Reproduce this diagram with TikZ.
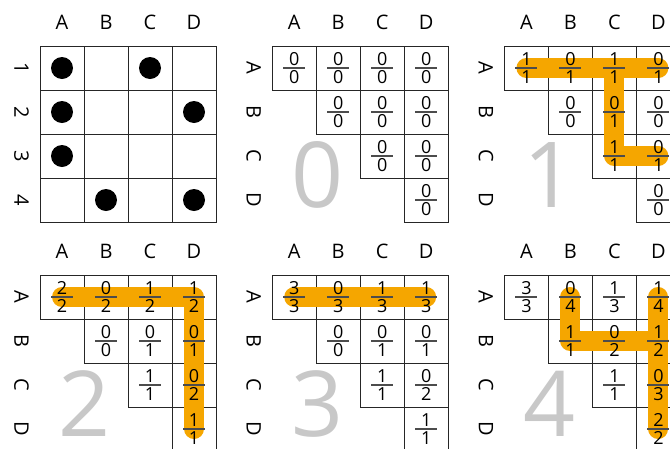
\documentclass[tikz,border=0pt]{standalone}
\usepackage{fontspec}
\setmainfont{Open Sans}
\usepackage{tikz}

\definecolor{bandorange}{RGB}{245,166,0}
\definecolor{numgray}{RGB}{200,200,200}

\pgfdeclarelayer{gridlayer}
\pgfdeclarelayer{bandlayer}
\pgfsetlayers{gridlayer,bandlayer,main}

\tikzset{
    cell/.style={minimum size=44pt, inner sep=0pt, outer sep=0pt},
    gridline/.style={draw=black!85, line width=1pt},
    band/.style={draw=bandorange, line width=20pt, line cap=round, line join=round},
    fbar/.style={draw=black!70, line width=1.2pt},
    digit/.style={inner sep=0pt, anchor=base, font=\fontsize{18}{18}\selectfont},
    headlabel/.style={inner sep=0pt, font=\fontsize{20}{20}\selectfont},
    sidelabel/.style={headlabel, rotate=-90},
    bignum/.style={inner sep=0pt, anchor=base, text depth=0pt, text=numgray, font=\fontsize{91}{91}\selectfont},
    dot/.style={circle, fill=black, minimum size=22pt, inner sep=0pt},
}

% one cell of a count table: name, row, column, numerator, denominator
\newcommand{\fraccell}[5]{%
    \node[cell] (#1) at ({(#3-1)*44+22},{(#2-1)*44+22}) {};
    \begin{pgfonlayer}{gridlayer}
        \draw[gridline] (#1.north west) rectangle (#1.south east);
    \end{pgfonlayer}
    \node[digit] at ([yshift=2.5pt]#1.center) {#4};
    \draw[fbar] ([xshift=-11pt]#1.center) -- ([xshift=11pt]#1.center);
    \node[digit] at ([yshift=-15pt]#1.center) {#5};
}

% column labels on top, row labels turned on the left
\newcommand{\tablelabels}[3]{%
    \foreach \l [count=\i] in {A,B,C,D}
        \node[headlabel] (#1-top\l) at ({(\i-1)*44+22},-24) {\l};
    \foreach \l [count=\i] in {#2}
        \node[sidelabel] (#1-side\i) at (-18.5,{(\i-1)*44+22}) {\l};
    \node[bignum] (#1-step) at (45,161) {#3};
}

\begin{document}
\begin{tikzpicture}[x=1pt,y=-1pt]
    \useasboundingbox (0,0) rectangle (670,448);

    % Dot matrix
    \begin{scope}[shift={(40,46)}]
        \foreach \r in {1,...,4}
            \foreach \c in {1,...,4} {
                \node[cell] (d-\r\c) at ({(\c-1)*44+22},{(\r-1)*44+22}) {};
                \begin{pgfonlayer}{gridlayer}
                    \draw[gridline] (d-\r\c.north west) rectangle (d-\r\c.south east);
                \end{pgfonlayer}
            }
        \foreach \p in {11,13,21,24,31,42,44}
            \node[dot] (dot-\p) at (d-\p) {};
        \foreach \l [count=\i] in {A,B,C,D}
            \node[headlabel] (d-top\l) at ({(\i-1)*44+22},-24) {\l};
        \foreach \i in {1,...,4}
            \node[sidelabel] (d-side\i) at (-18.5,{(\i-1)*44+22}) {\i};
    \end{scope}

    % Step 0
    \begin{scope}[shift={(272.2,46)}]
        \foreach \r/\c/\n/\d in {1/1/0/0, 1/2/0/0, 1/3/0/0, 1/4/0/0, 2/2/0/0,
                                 2/3/0/0, 2/4/0/0, 3/3/0/0, 3/4/0/0, 4/4/0/0}
            {\fraccell{c0-\r\c}{\r}{\c}{\n}{\d}}
        \tablelabels{c0}{A,B,C,D}{0}
    \end{scope}

    % Step 1
    \begin{scope}[shift={(504.4,46)}]
        \foreach \r/\c/\n/\d in {1/1/1/1, 1/2/0/1, 1/3/1/1, 1/4/0/1, 2/2/0/0,
                                 2/3/0/1, 2/4/0/0, 3/3/1/1, 3/4/0/1, 4/4/0/0}
            {\fraccell{c1-\r\c}{\r}{\c}{\n}{\d}}
        \tablelabels{c1}{A,B,C,D}{1}
    \end{scope}

    % Step 2
    \begin{scope}[shift={(40,275)}]
        \foreach \r/\c/\n/\d in {1/1/2/2, 1/2/0/2, 1/3/1/2, 1/4/1/2, 2/2/0/0,
                                 2/3/0/1, 2/4/0/1, 3/3/1/1, 3/4/0/2, 4/4/1/1}
            {\fraccell{c2-\r\c}{\r}{\c}{\n}{\d}}
        \tablelabels{c2}{A,B,C,D}{2}
    \end{scope}

    % Step 3
    \begin{scope}[shift={(272.2,275)}]
        \foreach \r/\c/\n/\d in {1/1/3/3, 1/2/0/3, 1/3/1/3, 1/4/1/3, 2/2/0/0,
                                 2/3/0/1, 2/4/0/1, 3/3/1/1, 3/4/0/2, 4/4/1/1}
            {\fraccell{c3-\r\c}{\r}{\c}{\n}{\d}}
        \tablelabels{c3}{A,B,C,D}{3}
    \end{scope}

    % Step 4
    \begin{scope}[shift={(504.4,275)}]
        \foreach \r/\c/\n/\d in {1/1/3/3, 1/2/0/4, 1/3/1/3, 1/4/1/4, 2/2/1/1,
                                 2/3/0/2, 2/4/1/2, 3/3/1/1, 3/4/0/3, 4/4/2/2}
            {\fraccell{c4-\r\c}{\r}{\c}{\n}{\d}}
        \tablelabels{c4}{A,B,C,D}{4}
    \end{scope}

    % Highlighted paths
    \begin{pgfonlayer}{bandlayer}
        \draw[band] (c1-11.center) -- (c1-14.center)
                    (c1-13.center) -- (c1-33.center) -- (c1-34.center);
        \draw[band] (c2-11.center) -- (c2-14.center) -- (c2-44.center);
        \draw[band] (c3-11.center) -- (c3-14.center);
        \draw[band] (c4-12.center) -- (c4-22.center) -- (c4-24.center)
                    (c4-14.center) -- (c4-44.center);
    \end{pgfonlayer}
\end{tikzpicture}
\end{document}
